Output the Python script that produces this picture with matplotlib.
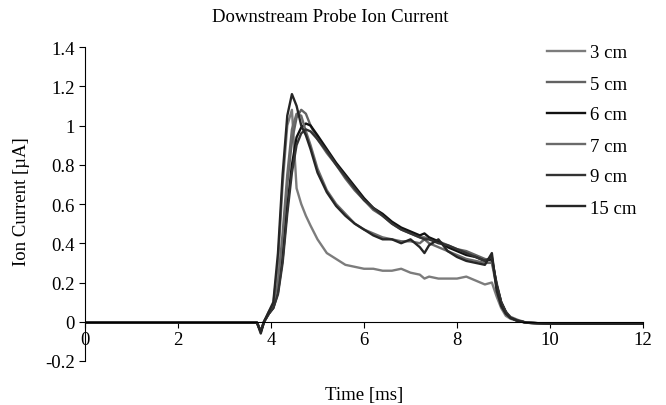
import matplotlib
matplotlib.use("Agg")
import matplotlib.pyplot as plt

plt.rcParams.update({'font.family': ['Liberation Serif', 'DejaVu Serif'], 'font.size': 13.5})

# time axis [ms]
t = [0, 1, 2, 3, 3.7, 3.78, 3.85, 3.95, 4.05, 4.15, 4.25, 4.35,
     4.45, 4.55, 4.65, 4.75, 4.85, 5.0, 5.2, 5.4, 5.6, 5.8, 6.0, 6.2,
     6.4, 6.6, 6.8, 7.0, 7.2, 7.3, 7.4, 7.6, 7.8, 8.0, 8.2, 8.4,
     8.6, 8.75, 8.85, 8.95, 9.05, 9.15, 9.3, 9.5, 10, 11, 12]

# ion current [uA] per probe distance
i_3cm = [-0.005, -0.005, -0.005, -0.005, -0.005, -0.05, 0.0, 0.05, 0.09, 0.3, 0.7, 1.0,
         1.08, 0.68, 0.6, 0.54, 0.49, 0.42, 0.35, 0.32, 0.29, 0.28, 0.27, 0.27,
         0.26, 0.26, 0.27, 0.25, 0.24, 0.22, 0.23, 0.22, 0.22, 0.22, 0.23, 0.21,
         0.19, 0.2, 0.13, 0.07, 0.03, 0.015, 0.005, -0.005, -0.01, -0.01, -0.01]
i_5cm = [-0.005, -0.005, -0.005, -0.005, -0.005, -0.05, 0.0, 0.04, 0.08, 0.18, 0.4, 0.7,
         0.92, 1.04, 1.08, 1.06, 1.0, 0.93, 0.86, 0.8, 0.73, 0.67, 0.62, 0.57,
         0.54, 0.5, 0.47, 0.45, 0.43, 0.43, 0.42, 0.41, 0.39, 0.37, 0.36, 0.34,
         0.32, 0.31, 0.2, 0.1, 0.05, 0.025, 0.01, -0.005, -0.01, -0.01, -0.01]
i_6cm = [-0.005, -0.005, -0.005, -0.005, -0.005, -0.05, 0.0, 0.04, 0.07, 0.15, 0.32, 0.58,
         0.8, 0.94, 0.99, 1.01, 1.0, 0.95, 0.88, 0.81, 0.75, 0.69, 0.63, 0.58,
         0.55, 0.51, 0.48, 0.46, 0.44, 0.45, 0.43, 0.41, 0.38, 0.36, 0.34, 0.33,
         0.31, 0.32, 0.19, 0.1, 0.05, 0.02, 0.005, -0.005, -0.01, -0.01, -0.01]
i_7cm = [-0.005, -0.005, -0.005, -0.005, -0.005, -0.05, 0.0, 0.04, 0.08, 0.2, 0.45, 0.75,
         0.98, 1.06, 1.05, 0.97, 0.9, 0.78, 0.67, 0.6, 0.55, 0.5, 0.47, 0.45,
         0.43, 0.42, 0.41, 0.41, 0.4, 0.42, 0.4, 0.38, 0.36, 0.34, 0.32, 0.31,
         0.3, 0.3, 0.18, 0.09, 0.05, 0.02, 0.005, -0.005, -0.01, -0.01, -0.01]
i_9cm = [-0.005, -0.005, -0.005, -0.005, -0.005, -0.05, 0.0, 0.04, 0.07, 0.14, 0.3, 0.55,
         0.76, 0.9, 0.96, 0.98, 0.97, 0.93, 0.87, 0.8, 0.74, 0.68, 0.62, 0.58,
         0.54, 0.5, 0.47, 0.45, 0.43, 0.42, 0.42, 0.4, 0.39, 0.37, 0.35, 0.33,
         0.31, 0.33, 0.19, 0.1, 0.05, 0.02, 0.005, -0.005, -0.01, -0.01, -0.01]
i_15cm = [-0.005, -0.005, -0.005, -0.005, -0.005, -0.06, 0.0, 0.05, 0.1, 0.35, 0.75, 1.05,
          1.16, 1.1, 1.0, 0.95, 0.88, 0.76, 0.66, 0.59, 0.54, 0.5, 0.47, 0.44,
          0.42, 0.42, 0.4, 0.42, 0.38, 0.35, 0.39, 0.42, 0.36, 0.33, 0.31, 0.3,
          0.29, 0.35, 0.16, 0.08, 0.04, 0.02, 0.005, -0.005, -0.01, -0.01, -0.01]

labels = ["3 cm", "5 cm", "6 cm", "7 cm", "9 cm", "15 cm"]
series = [i_3cm, i_5cm, i_6cm, i_7cm, i_9cm, i_15cm]
colors = ["#7c7c7c", "#626262", "#111111", "#6a6a6a", "#333333", "#262626"]

fig = plt.figure(figsize=(6.66, 4.06), dpi=100)
ax = fig.add_axes([85/666, 1-362/406, (643-85)/666, (362-48)/406])

for y, lab, c in zip(series, labels, colors):
    ax.plot(t, y, color=c, lw=1.7, label=lab)

ax.set_xlim(0, 12)
ax.set_ylim(-0.2, 1.4)
ax.set_xticks([0, 2, 4, 6, 8, 10, 12])
ax.set_yticks([-0.2, 0, 0.2, 0.4, 0.6, 0.8, 1, 1.2, 1.4])
ax.set_yticklabels(["-0.2", "0", "0.2", "0.4", "0.6", "0.8", "1", "1.2", "1.4"])

ax.spines['bottom'].set_position(('data', 0))
ax.spines['top'].set_visible(False)
ax.spines['right'].set_visible(False)
ax.tick_params(direction='out', length=4, width=0.8)
ax.tick_params(axis='x', pad=3)

fig.text(330/666, 1-17/406, "Downstream Probe Ion Current", ha='center', va='center')
fig.text(364/666, 1-396/406, "Time [ms]", ha='center', va='center')
fig.text(22/666, 1-202/406, "Ion Current [\u00b5A]", ha='center', va='center', rotation=90)

ax.legend(loc='upper left', bbox_to_anchor=(538/666, 1-36/406), bbox_transform=fig.transFigure,
          frameon=False, borderpad=0, handlelength=2.0, handletextpad=0.28, labelspacing=0.74)

fig.savefig("out.png", dpi=100)
